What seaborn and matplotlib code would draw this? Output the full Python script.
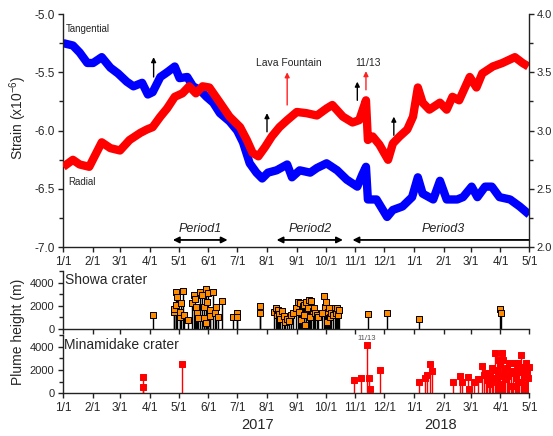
import numpy as np
import pandas as pd
import matplotlib
matplotlib.use("Agg")
import matplotlib.pyplot as plt
import matplotlib.dates as mdates
import matplotlib.transforms as mtrans
from matplotlib.ticker import MultipleLocator, FixedLocator, FixedFormatter
import seaborn as sns

# ---------------- data ----------------
START = pd.Timestamp("2017-01-01")

tang_day = [0, 10, 17, 25, 31, 40, 49, 57, 66, 73, 82, 88, 93, 101, 108, 116, 121, 129,
            135, 142, 149, 156, 163, 173, 181, 187, 194, 201, 207, 213, 222, 233, 238, 246,
            257, 264, 274, 285, 295, 306, 311, 315, 317, 326, 337, 343, 353, 363, 369, 374,
            385, 392, 399, 410, 416, 425, 431, 439, 446, 454, 465, 475, 485]
tang_val = [-5.25, -5.27, -5.33, -5.42, -5.42, -5.37, -5.46, -5.51, -5.58, -5.62, -5.59,
            -5.69, -5.67, -5.54, -5.50, -5.45, -5.55, -5.54, -5.62, -5.65, -5.71, -5.76,
            -5.85, -5.92, -6.00, -6.10, -6.28, -6.36, -6.41, -6.36, -6.34, -6.29, -6.40,
            -6.34, -6.36, -6.32, -6.28, -6.34, -6.42, -6.48, -6.38, -6.31, -6.59, -6.59,
            -6.74, -6.68, -6.65, -6.57, -6.40, -6.54, -6.59, -6.43, -6.59, -6.59, -6.57,
            -6.48, -6.57, -6.48, -6.48, -6.57, -6.59, -6.65, -6.72]

rad_day = [0, 10, 17, 27, 40, 49, 59, 69, 80, 87, 93, 101, 108, 116, 124, 131, 138, 145,
           152, 163, 173, 184, 191, 197, 203, 210, 217, 225, 233, 243, 253, 264, 274, 280,
           291, 301, 308, 315, 317, 322, 329, 338, 343, 350, 358, 364, 369, 374, 381, 392,
           399, 405, 412, 423, 430, 436, 447, 457, 470, 478, 484]
rad_val = [2.69, 2.75, 2.71, 2.69, 2.90, 2.85, 2.83, 2.92, 2.98, 3.01, 3.03, 3.12, 3.19,
           3.29, 3.32, 3.38, 3.32, 3.38, 3.37, 3.24, 3.12, 3.03, 2.92, 2.81, 2.78, 2.86,
           2.95, 3.03, 3.09, 3.16, 3.15, 3.13, 3.19, 3.22, 3.12, 3.07, 3.09, 3.26, 2.92,
           2.95, 2.88, 2.75, 2.89, 2.95, 3.01, 3.12, 3.37, 3.24, 3.18, 3.24, 3.18, 3.29,
           3.26, 3.46, 3.37, 3.49, 3.55, 3.58, 3.63, 3.58, 3.55]

showa_day = [93, 115, 115, 117, 117, 118, 121, 121, 122, 125, 126, 130, 134, 136, 137, 138,
             139, 140, 142, 144, 146, 146, 148, 148, 150, 151, 153, 153, 156, 158, 159, 161,
             165, 177, 181, 181, 205, 205,
             219, 221, 222, 223, 225, 226, 228, 230, 231, 233, 235, 237, 239,
             242, 244, 245, 246, 247, 249, 250, 251, 252, 253, 255, 256, 257, 258, 260, 261,
             262, 264, 265,
             269, 271, 272, 273, 274, 275, 277, 278, 279, 281, 283, 284, 285, 286, 287,
             317, 337, 370, 455, 456]
showa_h = [1200, 1500, 1700, 2075, 3230, 2790, 1060, 1500, 2220, 3310, 1210, 780, 2280, 2940,
           2570, 1930, 1410, 925, 3230, 2940, 1930, 925, 3430, 545, 2360, 3090, 1640, 1120,
           3230, 1360, 1930, 1060, 2420, 1010, 1410, 1060, 2020, 1410,
           1500, 1850, 1200, 1640, 1300, 900, 1550, 1150, 600, 900, 700, 1200, 1400,
           1800, 2310, 1500, 2220, 800, 2020, 1200, 2110, 350, 2360, 1850, 2510, 1000, 2420,
           1600, 1850, 1360, 1200, 1010,
           1400, 2850, 1900, 2360, 630, 1500, 1850, 1010, 1410, 1200, 1850, 1360, 1790, 1210,
           1640,
           1300, 1410, 890, 1730, 1360]

mina_day = [83, 83, 124, 303, 310, 316, 318, 319, 330, 370, 376, 379, 382, 384, 406, 413,
            415, 421, 422, 427, 432, 436,
            438, 440, 441, 443, 444, 446, 447, 449, 450, 451, 452, 453, 455, 456, 457, 458,
            459, 460, 462, 463, 464, 466, 467, 468, 470, 471, 472, 473, 474, 476, 477, 478,
            480, 481, 482, 483, 484, 485]
mina_h = [1420, 515, 2510, 1140, 1340, 4140, 1340, 340, 2000, 940, 1290, 1570, 2510, 1940,
          1000, 1510, 1000, 1400, 370, 1000, 1200, 2350,
          1600, 1720, 1140, 800, 1570, 2200, 1300, 3430, 2000, 1000, 2860, 1500, 2400, 800,
          3430, 2860, 1800, 1200, 2200, 1500, 2570, 1900, 600, 1720, 2570, 1300, 2000, 2570,
          1000, 3290, 1800, 2290, 1400, 700, 2570, 1800, 1300, 2290]

month_ticks = ["2017-01-01", "2017-02-01", "2017-03-01", "2017-04-01", "2017-05-01",
               "2017-06-01", "2017-07-01", "2017-08-01", "2017-09-01", "2017-10-01",
               "2017-11-01", "2017-12-01", "2018-01-01", "2018-02-01", "2018-03-01",
               "2018-04-01", "2018-05-01"]
month_labels = ["1/1", "2/1", "3/1", "4/1", "5/1", "6/1", "7/1", "8/1", "9/1", "10/1",
                "11/1", "12/1", "1/1", "2/1", "3/1", "4/1", "5/1"]

# event arrows (day offset, bottom, top) in left-axis strain units
black_arrow_day = [94, 212, 306, 344]
black_arrow_y0 = [-5.54, -6.01, -5.74, -6.04]
black_arrow_y1 = [-5.37, -5.85, -5.58, -5.88]
red_arrow_day = [233, 315]
red_arrow_y0 = [-5.78, -5.65]
red_arrow_y1 = [-5.50, -5.49]
red_arrow_text = ["Lava Fountain", "11/13"]


def to_dates(days):
    return START + pd.to_timedelta(np.asarray(days), unit="D")


# ---------------- style ----------------
sns.set_theme(style="ticks")
plt.rcParams["font.family"] = ["Liberation Sans", "DejaVu Sans"]
plt.rcParams["axes.unicode_minus"] = False
plt.rcParams["mathtext.fontset"] = "custom"
plt.rcParams["mathtext.rm"] = "Liberation Sans"
plt.rcParams["mathtext.default"] = "regular"
plt.rcParams["axes.edgecolor"] = "#222222"
plt.rcParams["axes.linewidth"] = 1.0

W, H = 553, 436
fig = plt.figure(figsize=(W / 100, H / 100), dpi=100)


def px_axes(l, t, r, b):
    return fig.add_axes([l / W, 1 - b / H, (r - l) / W, (b - t) / H])


xmin, xmax = pd.Timestamp("2017-01-01"), pd.Timestamp("2018-05-01")
tick_dates = pd.to_datetime(month_ticks)

ax = px_axes(63.3, 14, 529.3, 247.3)
ax2 = ax.twinx()
ax_s = px_axes(63.3, 271.2, 529.3, 329)
ax_m = px_axes(63.3, 335, 529.3, 393.3)

# strain curves
sns.lineplot(x=to_dates(tang_day), y=tang_val, ax=ax, color="#0000ff", lw=6,
             solid_joinstyle="round", solid_capstyle="butt")
sns.lineplot(x=to_dates(rad_day), y=rad_val, ax=ax2, color="#ff0000", lw=6,
             solid_joinstyle="round", solid_capstyle="butt")

ax.set_ylim(-7.0, -5.0)
ax2.set_ylim(2.0, 4.0)
for a in (ax, ax2, ax_s, ax_m):
    a.set_xlim(xmin, xmax)
    a.xaxis.set_major_locator(FixedLocator(mdates.date2num(tick_dates)))
    a.set_ylabel("")
    a.set_xlabel("")

ax.yaxis.set_major_locator(MultipleLocator(0.5))
ax.yaxis.set_minor_locator(MultipleLocator(0.25))
ax.yaxis.set_major_formatter(matplotlib.ticker.FormatStrFormatter("%.1f"))
ax2.yaxis.set_major_locator(MultipleLocator(0.5))
ax2.yaxis.set_minor_locator(MultipleLocator(0.25))
ax2.yaxis.set_major_formatter(matplotlib.ticker.FormatStrFormatter("%.1f"))

ax.xaxis.set_major_formatter(FixedFormatter(month_labels))
ax_m.xaxis.set_major_formatter(FixedFormatter(month_labels))
ax_s.tick_params(axis="x", labelbottom=False)

for a in (ax, ax2, ax_s, ax_m):
    a.tick_params(axis="both", which="major", direction="out", length=3.8, width=1,
                  labelsize=8.5, pad=2.5, color="#222222")
    a.tick_params(axis="y", which="minor", direction="out", length=2.8, width=1, color="#222222")
ax2.tick_params(axis="y", which="major", labelsize=8, pad=1.5)
ax_s.tick_params(axis="y", labelsize=8)
ax_m.tick_params(axis="y", labelsize=8)

ax.spines["top"].set_visible(False)
ax.spines["right"].set_visible(False)
ax2.spines["top"].set_visible(False)
ax2.spines["left"].set_visible(False)
ax2.spines["bottom"].set_visible(False)
for a in (ax_s, ax_m):
    a.spines["top"].set_visible(False)
    a.spines["right"].set_visible(False)

# plume heights
for a, days, hts, stem_c, face, edge in (
        (ax_s, showa_day, showa_h, "black", "#ff8c00", "black"),
        (ax_m, mina_day, mina_h, "#ff0000", "#ff0000", "#ff0000")):
    d = to_dates(days)
    a.vlines(d, 0, hts, color=stem_c, lw=1.0, zorder=2)
    sns.scatterplot(x=d, y=hts, ax=a, marker="s", s=22, color=face, edgecolor=edge,
                    linewidth=0.7, zorder=3, clip_on=False)
    a.set_ylim(0, 5000)
    a.yaxis.set_major_locator(FixedLocator([0, 2000, 4000]))
    a.yaxis.set_minor_locator(MultipleLocator(1000))
    a.set_ylabel("")
    a.set_xlabel("")

# text labels
ax.text(0.006, 0.936, "Tangential", transform=ax.transAxes, fontsize=7, va="center", ha="left")
ax.text(0.011, 0.28, "Radial", transform=ax.transAxes, fontsize=7, va="center", ha="left")
ax_s.text(0.004, 0.85, "Showa crater", transform=ax_s.transAxes, fontsize=10, va="center")
ax_m.text(0.002, 0.83, "Minamidake crater", transform=ax_m.transAxes, fontsize=10, va="center")

arrow_dates_b = to_dates(black_arrow_day)
for dd, y0, y1 in zip(arrow_dates_b, black_arrow_y0, black_arrow_y1):
    ax.annotate("", xy=(dd, y1), xytext=(dd, y0),
                arrowprops=dict(arrowstyle="-|>", color="black", lw=1.0, mutation_scale=7,
                                shrinkA=0, shrinkB=0))
arrow_dates_r = to_dates(red_arrow_day)
for dd, y0, y1, txt in zip(arrow_dates_r, red_arrow_y0, red_arrow_y1, red_arrow_text):
    ax.annotate("", xy=(dd, y1), xytext=(dd, y0),
                arrowprops=dict(arrowstyle="-|>", color="#ff2020", lw=1.0, mutation_scale=7,
                                shrinkA=0, shrinkB=0))
    ax.text(dd + pd.Timedelta(days=2), -5.42, txt, fontsize=7.5, ha="center", va="center")

# periods
y_arr = -6.937
periods = [("Period1", "2017-04-25", "2017-06-21", "2017-05-23", "<|-|>"),
           ("Period2", "2017-08-11", "2017-10-19", "2017-09-15", "<|-|>"),
           ("Period3", "2017-10-29", "2018-05-01", "2018-01-31", "<|-")]
for name, d1, d2, dc, style in periods:
    ax.annotate("", xy=(pd.Timestamp(d2), y_arr), xytext=(pd.Timestamp(d1), y_arr),
                arrowprops=dict(arrowstyle=style, color="black", lw=1.3, mutation_scale=9,
                                shrinkA=0, shrinkB=0), annotation_clip=False)
    ax.text(pd.Timestamp(dc), -6.845, name, fontsize=9, style="italic", ha="center",
            va="center")

ax_m.text(pd.Timestamp("2017-11-13"), 4700, "11/13", fontsize=5.5, color="#555555",
          ha="center", va="center")

blend = mtrans.blended_transform_factory(ax_m.transData, ax_m.transAxes)
ax_m.text(pd.Timestamp("2017-07-22"), -0.545, "2017", transform=blend, fontsize=10.5,
          ha="center", va="center")
ax_m.text(pd.Timestamp("2018-01-29"), -0.545, "2018", transform=blend, fontsize=10.5,
          ha="center", va="center")

fig.text(18 / W, 1 - 118 / H, "Strain (x10$^{-6}$)", rotation=90, fontsize=10,
         ha="center", va="center")
fig.text(18 / W, 1 - 332 / H, "Plume height (m)", rotation=90, fontsize=10,
         ha="center", va="center")

fig.savefig("out.png", dpi=100)
